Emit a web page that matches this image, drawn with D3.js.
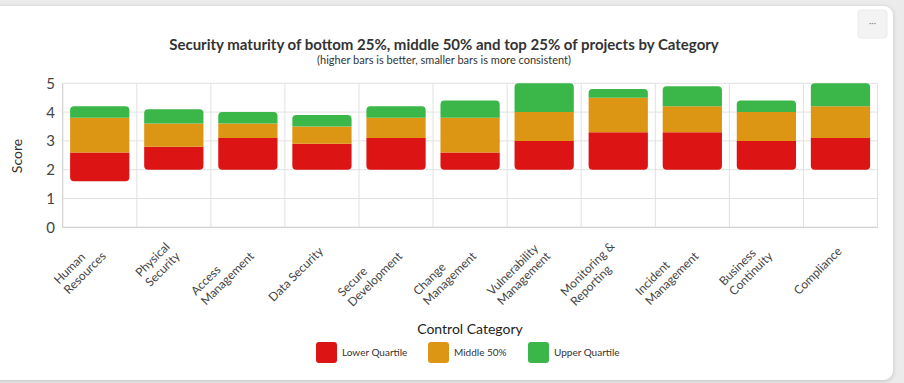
<!DOCTYPE html>
<html>
<head>
<meta charset="utf-8">
<script src="https://cdn.jsdelivr.net/npm/d3@7"></script>
<style>
  html, body { margin: 0; padding: 0; background: #ebebeb; width: 904px; height: 383px; overflow: hidden; }
  #card { position: absolute; left: -12px; top: 6px; width: 905px; height: 374px; background: #fff; border-radius: 9px; box-shadow: 0 1px 4px rgba(0,0,0,0.18); }
  svg { position: absolute; left: 0; top: 0; font-family: Lato, "Noto Sans", sans-serif; }
</style>
</head>
<body>
<div id="card"></div>
<svg id="chart" width="904" height="383"></svg>
<script>
const categories = ["Human Resources", "Physical Security", "Access Management", "Data Security", "Secure Development", "Change Management", "Vulnerability Management", "Monitoring & Reporting", "Incident Management", "Business Continuity", "Compliance"];
const categoryLines = [["Human", "Resources"], ["Physical", "Security"], ["Access", "Management"], ["Data Security"], ["Secure", "Development"], ["Change", "Management"], ["Vulnerability", "Management"], ["Monitoring &", "Reporting"], ["Incident", "Management"], ["Business", "Continuity"], ["Compliance"]];
const minScore   = [1.6, 2.0, 2.0, 2.0, 2.0, 2.0, 2.0, 2.0, 2.0, 2.0, 2.0];
const lowerTop   = [2.6, 2.8, 3.1, 2.9, 3.1, 2.6, 3.0, 3.3, 3.3, 3.0, 3.1];
const middleTop  = [3.8, 3.6, 3.6, 3.5, 3.8, 3.8, 4.0, 4.5, 4.2, 4.0, 4.2];
const maxScore   = [4.2, 4.1, 4.0, 3.9, 4.2, 4.4, 5.0, 4.8, 4.9, 4.4, 5.0];
const seriesNames = ["Lower Quartile", "Middle 50%", "Upper Quartile"];
const seriesColors = ["#dc1414", "#dd9614", "#3bb74a"];
const yTicks = [0, 1, 2, 3, 4, 5];

const svg = d3.select("#chart");
const pLeft = 62.7, pRight = 877.5, pTop = 83.3, pBottom = 227.3;

const x = d3.scaleBand().domain(categories).range([pLeft, pRight]).padding(0);
const y = d3.scaleLinear().domain([0, 5]).range([pBottom, pTop]);

// menu button
svg.append("rect").attr("x", 858).attr("y", 10).attr("width", 29).attr("height", 28).attr("rx", 3).attr("fill", "#f3f3f3").attr("stroke", "#ececec");
svg.append("text").attr("x", 872.5).attr("y", 26).attr("text-anchor", "middle").attr("font-size", 9).attr("fill", "#888").text("···");

// Title
svg.append("text").attr("x", 444).attr("y", 50).attr("text-anchor", "middle").attr("font-size", 15).attr("font-weight", "bold").attr("fill", "#333")
  .text("Security maturity of bottom 25%, middle 50% and top 25% of projects by Category");
svg.append("text").attr("x", 444).attr("y", 63.5).attr("text-anchor", "middle").attr("font-size", 11).attr("fill", "#333")
  .text("(higher bars is better, smaller bars is more consistent)");

// grid
const grid = svg.append("g");
grid.selectAll("line.h").data(yTicks).join("line")
  .attr("x1", pLeft).attr("x2", pRight).attr("y1", d => y(d)).attr("y2", d => y(d))
  .attr("stroke", "#e1e1e1").attr("stroke-width", 1);
const vLines = categories.map(c => x(c)).concat([pRight]);
grid.selectAll("line.v").data(vLines).join("line")
  .attr("x1", d => d).attr("x2", d => d).attr("y1", pTop).attr("y2", pBottom)
  .attr("stroke", "#e1e1e1").attr("stroke-width", 1);
svg.append("line").attr("x1", pLeft).attr("x2", pRight).attr("y1", pBottom).attr("y2", pBottom).attr("stroke", "#cfcfcf");
svg.append("line").attr("x1", pLeft).attr("x2", pLeft).attr("y1", pTop).attr("y2", pBottom).attr("stroke", "#cfcfcf");

// y tick labels
svg.selectAll("text.ytick").data(yTicks).join("text")
  .attr("x", 55).attr("y", d => y(d)).attr("dy", "0.36em").attr("text-anchor", "end")
  .attr("font-size", 15).attr("fill", "#444").text(d => d);
svg.append("text").attr("transform", "translate(22,156) rotate(-90)").attr("text-anchor", "middle")
  .attr("font-size", 14).attr("fill", "#333").text("Score");

// bars
function segPath(x0, w, y0, y1, r, roundTop, roundBottom) {
  const rt = roundTop ? r : 0, rb = roundBottom ? r : 0;
  return `M${x0},${y0 + rt}` +
    (rt ? `Q${x0},${y0} ${x0 + rt},${y0}` : "") +
    `L${x0 + w - rt},${y0}` +
    (rt ? `Q${x0 + w},${y0} ${x0 + w},${y0 + rt}` : "") +
    `L${x0 + w},${y1 - rb}` +
    (rb ? `Q${x0 + w},${y1} ${x0 + w - rb},${y1}` : "") +
    `L${x0 + rb},${y1}` +
    (rb ? `Q${x0},${y1} ${x0},${y1 - rb}` : "") + "Z";
}
const segments = [];
categories.forEach((c, i) => {
  const bounds = [minScore[i], lowerTop[i], middleTop[i], maxScore[i]];
  for (let s = 0; s < 3; s++) {
    segments.push({ c, s, lo: bounds[s], hi: bounds[s + 1] });
  }
});
const bw = x.bandwidth() * 0.8;
svg.append("g").selectAll("path").data(segments).join("path")
  .attr("d", d => segPath(x(d.c) + x.bandwidth() * 0.1, bw, y(d.hi), y(d.lo), 4, d.s === 2, d.s === 0))
  .attr("fill", d => seriesColors[d.s]);

// x labels
const lh = 14;
const xl = svg.append("g").attr("font-size", 12).attr("fill", "#444");
categoryLines.forEach((lines, i) => {
  const cx = x(categories[i]) + x.bandwidth() / 2 - 1;
  const g = xl.append("g").attr("transform", `translate(${cx},249) rotate(-45)`);
  const texts = lines.map((ln, j) => g.append("text")
    .attr("y", (j - (lines.length - 1) / 2) * lh).attr("dy", "0.35em").text(ln));
  const maxW = d3.max(texts, t => t.node().getComputedTextLength());
  texts.forEach(t => t.attr("x", -maxW));
});

// legend
svg.append("text").attr("x", 470).attr("y", 334).attr("text-anchor", "middle").attr("font-size", 14).attr("fill", "#222").text("Control Category");
const legendX = [316, 428, 528];
seriesNames.forEach((n, i) => {
  svg.append("rect").attr("x", legendX[i]).attr("y", 342).attr("width", 21).attr("height", 21).attr("rx", 3).attr("fill", seriesColors[i]);
  svg.append("text").attr("x", legendX[i] + 26).attr("y", 352.5).attr("dy", "0.35em").attr("font-size", 10).attr("fill", "#333").text(n);
});
</script>
</body>
</html>
